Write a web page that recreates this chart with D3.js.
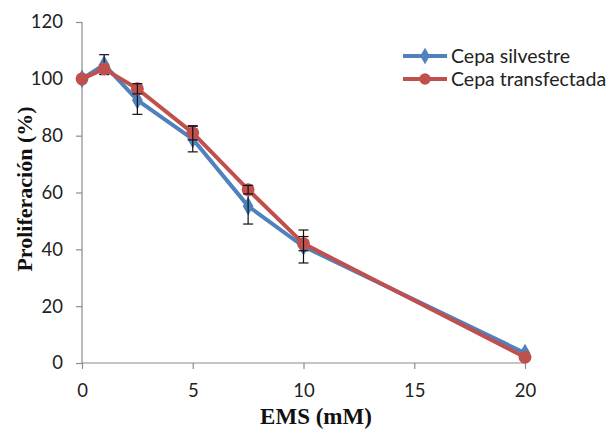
<!DOCTYPE html>
<html>
<head>
<meta charset="utf-8">
<script src="https://cdn.jsdelivr.net/npm/d3@7"></script>
<style>
  html, body { margin: 0; padding: 0; background: #fff; }
  svg { display: block; }
</style>
</head>
<body>
<svg id="chart" width="614" height="437"></svg>
<script>
// EMS concentrations (mM)
const doses = [0, 1, 2.5, 5, 7.5, 10, 20];
// Proliferation (%) and standard error per strain
const silvestre = [100, 105, 92.5, 78.8, 55.2, 41, 3.5];
const silvestreErr = [0, 3.5, 5, 4.5, 6.3, 5.8, 0];
const transfectada = [100, 103.5, 96.5, 81, 61, 42, 2];
const transfectadaErr = [0, 0, 1.8, 2.5, 1.5, 2.5, 0];
const xTicks = [0, 5, 10, 15, 20];
const yTicks = [0, 20, 40, 60, 80, 100, 120];
const seriesNames = ["Cepa silvestre", "Cepa transfectada"];

const svg = d3.select("#chart");
const x = d3.scaleLinear().domain([0, 20]).range([82, 525]);
const y = d3.scaleLinear().domain([0, 120]).range([363, 22]);

const labelFont = "Lato, 'Open Sans', sans-serif";
const titleFont = "'Liberation Serif', 'DejaVu Serif', serif";

// Axes
const yAxis = svg.append("g").attr("transform", `translate(${x(0)},0)`)
  .call(d3.axisLeft(y).tickValues(yTicks).tickSize(6).tickPadding(13));
const xAxis = svg.append("g").attr("transform", `translate(0,${y(0)})`)
  .call(d3.axisBottom(x).tickValues(xTicks).tickSize(6).tickPadding(15));
[yAxis, xAxis].forEach(a => {
  a.selectAll("path, line").attr("stroke", "#8c8c8c").attr("stroke-width", 1.2);
  a.selectAll("text").attr("font-family", labelFont).attr("font-size", 18.5).attr("fill", "#222");
});
yAxis.select(".domain").attr("d", `M0,${y(120)}V${y(0)}`);
xAxis.select(".domain").attr("d", `M${x(0)},0H${x(20)}`);

// Axis titles
svg.append("text").attr("x", 316).attr("y", 424).attr("text-anchor", "middle")
  .attr("font-family", titleFont).attr("font-weight", "bold").attr("font-size", 23)
  .attr("fill", "#111").text("EMS (mM)");
svg.append("text").attr("transform", "translate(32,189) rotate(-90)")
  .attr("text-anchor", "middle")
  .attr("font-family", titleFont).attr("font-weight", "bold").attr("font-size", 22)
  .attr("fill", "#111").text("Proliferación (%)");

const series = [
  { name: seriesNames[0], vals: silvestre, err: silvestreErr, color: "#4F81BD", shape: d3.symbolDiamond, size: 100 },
  { name: seriesNames[1], vals: transfectada, err: transfectadaErr, color: "#C0504D", shape: d3.symbolCircle, size: 130 }
];

const line = d3.line().x(d => x(d[0])).y(d => y(d[1]));

series.forEach(s => {
  const pts = doses.map((d, i) => [d, s.vals[i], s.err[i]]);
  const g = svg.append("g");
  g.append("path").attr("d", line(pts)).attr("fill", "none")
    .attr("stroke", s.color).attr("stroke-width", 4).attr("stroke-linejoin", "round");
  g.selectAll("path.m").data(pts).join("path").attr("class", "m")
    .attr("d", d3.symbol().type(s.shape).size(s.size))
    .attr("transform", d => `translate(${x(d[0])},${y(d[1])})`)
    .attr("fill", s.color);
  // error bars
  const eb = g.selectAll("g.eb").data(pts.filter(d => d[2] > 0)).join("g").attr("class", "eb")
    .attr("stroke", "#111").attr("stroke-width", 1.2);
  eb.append("line").attr("x1", d => x(d[0])).attr("x2", d => x(d[0]))
    .attr("y1", d => y(d[1] - d[2])).attr("y2", d => y(d[1] + d[2]));
  eb.append("line").attr("x1", d => x(d[0]) - 5).attr("x2", d => x(d[0]) + 5)
    .attr("y1", d => y(d[1] - d[2])).attr("y2", d => y(d[1] - d[2]));
  eb.append("line").attr("x1", d => x(d[0]) - 5).attr("x2", d => x(d[0]) + 5)
    .attr("y1", d => y(d[1] + d[2])).attr("y2", d => y(d[1] + d[2]));
});

// Legend
const legend = svg.append("g").attr("transform", "translate(403,56)");
series.forEach((s, i) => {
  const row = legend.append("g").attr("transform", `translate(0,${i * 23})`);
  row.append("line").attr("x1", 0).attr("x2", 44).attr("stroke", s.color).attr("stroke-width", 4);
  row.append("path").attr("d", d3.symbol().type(s.shape).size(s.size * 0.8))
    .attr("transform", "translate(22,0)").attr("fill", s.color);
  row.append("text").attr("x", 48).attr("y", 6.5).attr("font-family", labelFont)
    .attr("font-size", 19.5).attr("fill", "#222").text(s.name);
});
</script>
</body>
</html>
